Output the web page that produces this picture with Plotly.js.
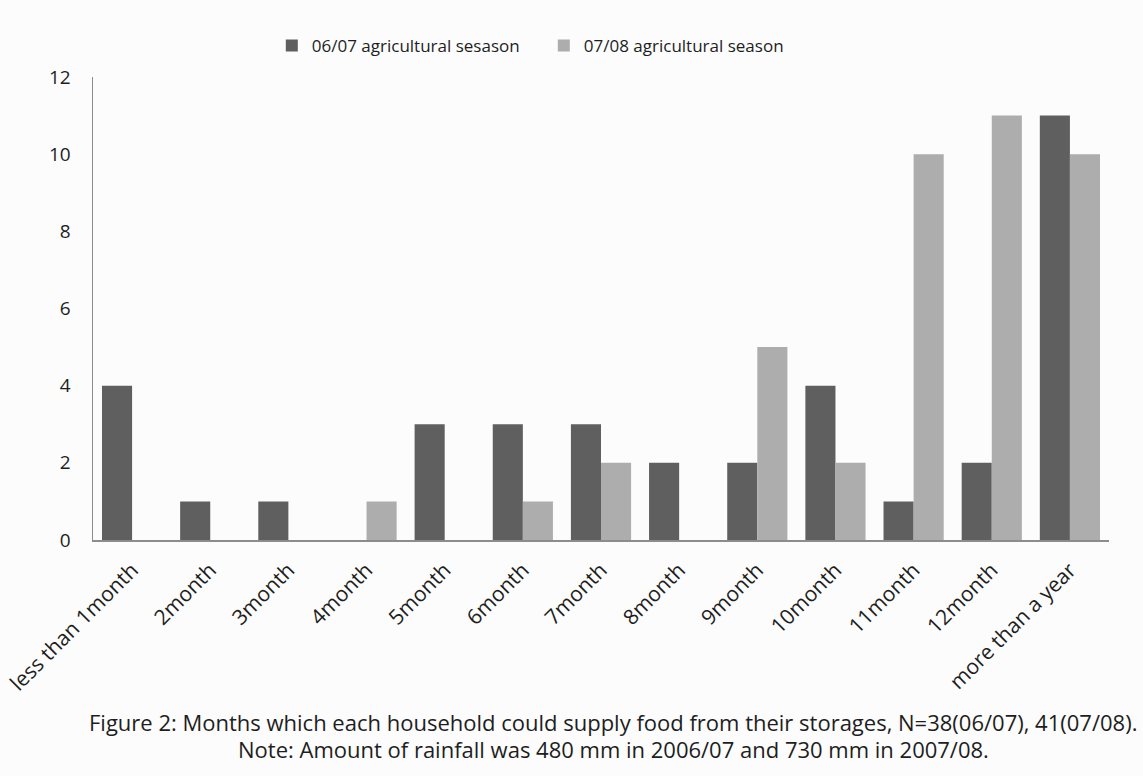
<!DOCTYPE html>
<html>
<head>
<meta charset="utf-8">
<script src="https://cdn.plot.ly/plotly-3.0.1.min.js"></script>
<style>
  html, body { margin: 0; padding: 0; background: #fbfcfb; }
  #chart { width: 1143px; height: 776px; }
</style>
</head>
<body>
<div id="chart"></div>
<script>
// Months of food supply from household storage, by agricultural season
const categories = ['less than 1month', '2month', '3month', '4month', '5month', '6month',
  '7month', '8month', '9month', '10month', '11month', '12month', 'more than a year'];
const season0607 = [4, 1, 1, 0, 3, 3, 3, 2, 2, 4, 1, 2, 11];
const season0708 = [0, 0, 0, 1, 0, 1, 2, 0, 5, 2, 10, 11, 10];
const seriesNames = ['06/07 agricultural sesason', '07/08 agricultural season'];
const yTicks = [0, 2, 4, 6, 8, 10, 12];
const captionLines = [
  'Figure 2: Months which each household could supply food from their storages, N=38(06/07), 41(07/08).',
  'Note: Amount of rainfall was 480 mm in 2006/07 and 730 mm in 2007/08.'
];

const FONT = '"Open Sans", Lato, sans-serif';
const INK = '#1e1e1e';

const traces = [
  {
    type: 'bar', x: categories, y: season0607, name: seriesNames[0],
    marker: { color: '#5f5f5f', line: { width: 0 } }
  },
  {
    type: 'bar', x: categories, y: season0708, name: seriesNames[1],
    marker: { color: '#adadad', line: { width: 0 } }
  }
];

const layout = {
  width: 1143, height: 776,
  paper_bgcolor: '#fbfcfb', plot_bgcolor: '#fbfcfb',
  margin: { l: 93, r: 34, t: 77, b: 236 },
  font: { family: FONT, size: 17, color: INK },
  barmode: 'group', bargap: 0.23, bargroupgap: 0,
  showlegend: true,
  legend: {
    orientation: 'h', x: 0.176, xanchor: 'left', y: 1.067, yanchor: 'middle',
    font: { family: FONT, size: 17, color: INK },
    itemwidth: 30, entrywidth: 227, entrywidthmode: 'pixels',
    traceorder: 'normal', bgcolor: 'rgba(0,0,0,0)'
  },
  xaxis: {
    type: 'category', tickangle: -45, showgrid: false, zeroline: false,
    showline: true, linecolor: '#8c8c8c', linewidth: 1.5, ticks: '',
    ticklabelstandoff: 8,
    tickfont: { family: FONT, size: 21, color: INK }
  },
  yaxis: {
    range: [0, 12], tickvals: yTicks, ticktext: yTicks.map(String),
    showgrid: false, zeroline: false, showline: true, linecolor: '#8c8c8c', linewidth: 1.5,
    ticks: '', ticklabelstandoff: 17, tickfont: { family: FONT, size: 19, color: INK }
  },
  annotations: captionLines.map((t, i) => ({
    text: t, xref: 'paper', yref: 'paper', x: 0.512, xanchor: 'center',
    y: i === 0 ? -0.393 : -0.451, yanchor: 'middle', showarrow: false,
    font: { family: FONT, size: 22, color: INK }
  }))
};

Plotly.newPlot('chart', traces, layout, { displayModeBar: false, staticPlot: true });
</script>
</body>
</html>
